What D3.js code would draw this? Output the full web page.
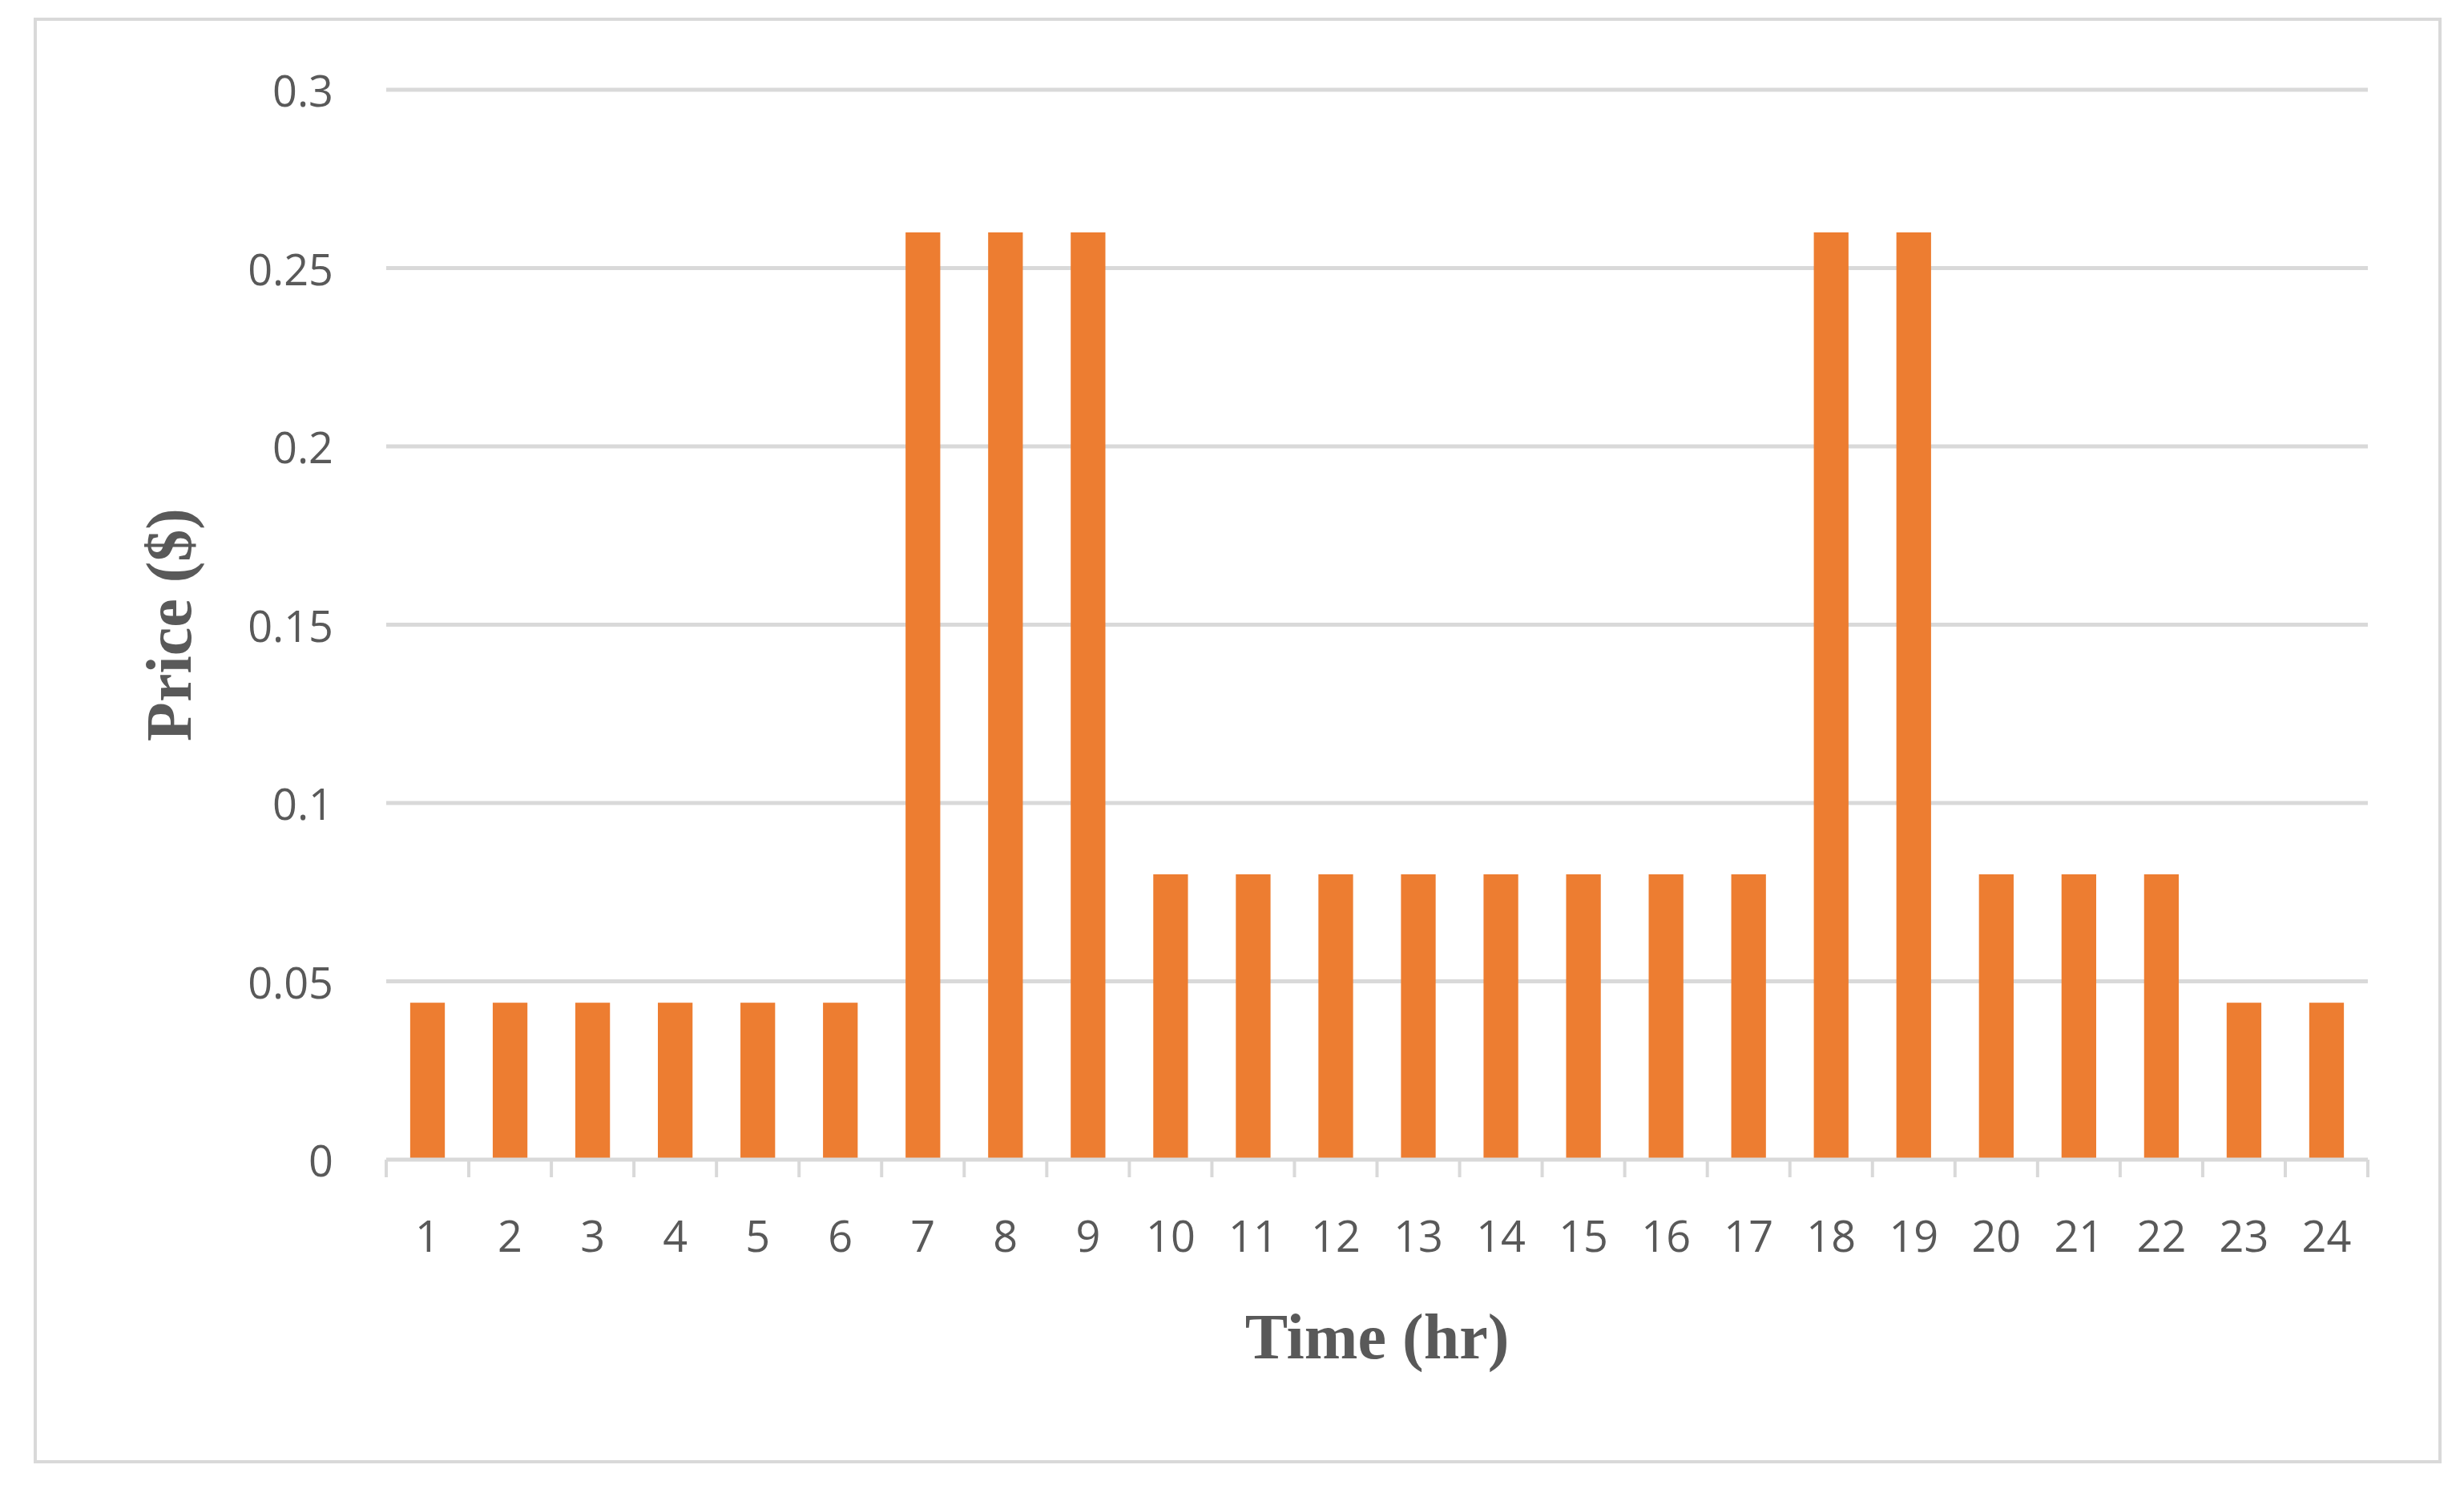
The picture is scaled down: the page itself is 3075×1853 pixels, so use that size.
<!DOCTYPE html>
<html><head><meta charset="utf-8">
<script src="https://cdn.jsdelivr.net/npm/d3@7"></script>
<style>body{margin:0;background:#fff}</style>
</head><body><div id="chart"></div>
<script>
var hours = d3.range(1, 25).map(String)
var prices = [0.044,0.044,0.044,0.044,0.044,0.044,0.26,0.26,0.26,0.08,0.08,0.08,0.08,0.08,0.08,0.08,0.08,0.26,0.26,0.08,0.08,0.08,0.044,0.044]
var yTicks = [0, 0.05, 0.1, 0.15, 0.2, 0.25, 0.3]

var W = 3075, H = 1853
var mLeft = 482, mRight = 2955, mTop = 112, mBottom = 1447
var svg = d3.select("#chart").append("svg").attr("width", W).attr("height", H)

svg.append("rect").attr("x", 44).attr("y", 24).attr("width", 3001).attr("height", 1800)
    .attr("fill", "none").attr("stroke", "#d9d9d9").attr("stroke-width", 4)

var xs = d3.scaleBand().domain(hours).range([mLeft, mRight]).paddingInner(0.58).paddingOuter(0.29)
var ys = d3.scaleLinear().domain([0, 0.3]).range([mBottom, mTop])

// gridlines
svg.selectAll(".grid").data(yTicks.slice(1)).enter().append("line")
    .attr("x1", mLeft).attr("x2", mRight)
    .attr("y1", d => ys(d)).attr("y2", d => ys(d))
    .attr("stroke", "#d9d9d9").attr("stroke-width", 5)

// y tick labels
svg.selectAll(".ylab").data(yTicks).enter().append("text")
    .attr("x", mLeft - 66).attr("y", d => ys(d))
    .attr("text-anchor", "end").attr("dominant-baseline", "central")
    .attr("font-family", "Open Sans").attr("font-size", 54).attr("fill", "#595959")
    .text(d => d)

// bars
svg.selectAll(".bar").data(prices).enter().append("rect")
    .attr("x", (d, i) => xs(hours[i])).attr("width", xs.bandwidth())
    .attr("y", d => ys(d)).attr("height", d => ys(0) - ys(d))
    .attr("fill", "#ed7d31")

// x axis line and ticks
var step = (mRight - mLeft) / hours.length
svg.append("line").attr("x1", mLeft).attr("x2", mRight).attr("y1", mBottom).attr("y2", mBottom)
    .attr("stroke", "#d9d9d9").attr("stroke-width", 5)
svg.selectAll(".xt").data(d3.range(hours.length + 1)).enter().append("line")
    .attr("x1", d => mLeft + d * step).attr("x2", d => mLeft + d * step)
    .attr("y1", mBottom).attr("y2", mBottom + 22)
    .attr("stroke", "#d9d9d9").attr("stroke-width", 4)

svg.selectAll(".xlab").data(hours).enter().append("text")
    .attr("x", d => xs(d) + xs.bandwidth() / 2).attr("y", mBottom + 115)
    .attr("text-anchor", "middle")
    .attr("font-family", "Open Sans").attr("font-size", 54).attr("fill", "#595959")
    .text(d => d)

// axis titles
svg.append("text").attr("x", (mLeft + mRight) / 2).attr("y", 1695)
    .attr("text-anchor", "middle").attr("font-family", "Liberation Serif").attr("font-weight", "bold")
    .attr("font-size", 80).attr("fill", "#595959").text("Time (hr)")
svg.append("text").attr("transform", "translate(238," + (ys(0.15)) + ") rotate(-90)")
    .attr("text-anchor", "middle").attr("font-family", "Liberation Serif").attr("font-weight", "bold")
    .attr("font-size", 80).attr("fill", "#595959").text("Price ($)")
</script></body></html>
